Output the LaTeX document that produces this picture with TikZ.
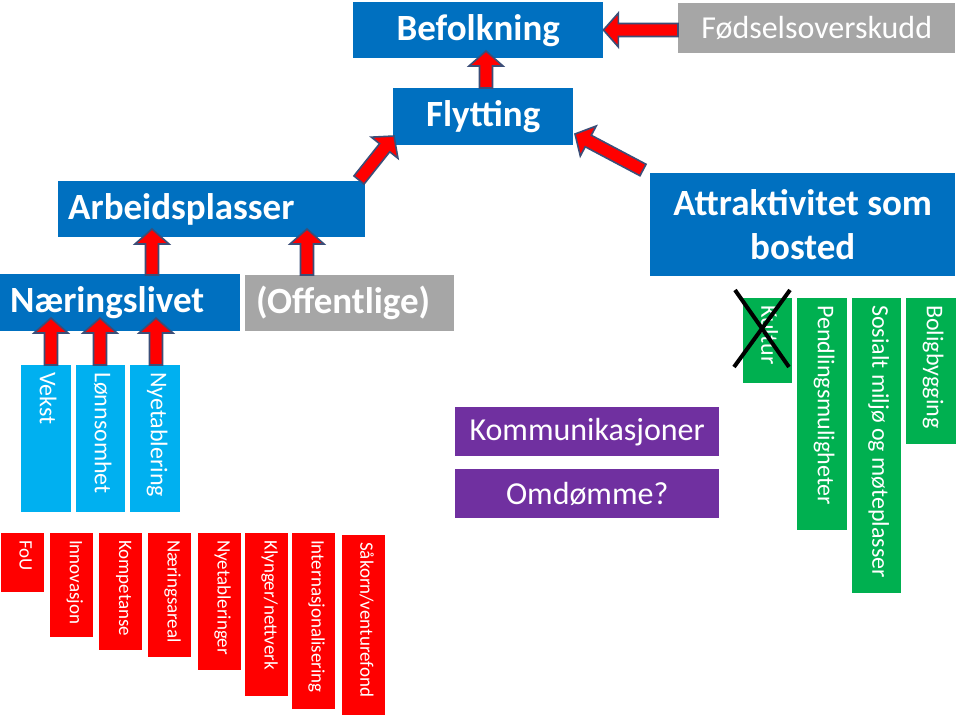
\documentclass[tikz,border=0pt]{standalone}
\usepackage{fontspec}
\setmainfont{Carlito}
\usetikzlibrary{calc}
\definecolor{dblue}{HTML}{0070C0}
\definecolor{lblue}{HTML}{00B0F0}
\definecolor{gbox}{HTML}{A6A6A6}
\definecolor{rbox}{HTML}{FF0000}
\definecolor{pbox}{HTML}{7030A0}
\definecolor{gnbox}{HTML}{00B050}
\definecolor{arrline}{HTML}{3B4E78}
\newcommand\bigfont{\fontsize{37}{44}\selectfont\bfseries}
\newcommand\midfont{\fontsize{32}{38}\selectfont}
\newcommand\vfont{\fontsize{24}{28}\selectfont}
\newcommand\rfont{\fontsize{19}{22}\selectfont}
\newcommand\blockarr[2]{%
  \coordinate (ba-h) at ($(#2)!15pt!(#1)$);
  \draw[barrow] ($(#1)!6.5pt!90:(#2)$) -- ($(ba-h)!6.5pt!90:(#2)$) -- ($(ba-h)!17pt!90:(#2)$) -- (#2)
     -- ($(ba-h)!17pt!-90:(#2)$) -- ($(ba-h)!6.5pt!-90:(#2)$) -- ($(#1)!6.5pt!-90:(#2)$) -- cycle;}
\tikzset{
  box/.style={rectangle, inner sep=0pt, anchor=north west, text=white},
  bigbox/.style={box, fill=dblue, font=\bigfont},
  graybox/.style={box, fill=gbox},
  purplebox/.style={box, fill=pbox, font=\midfont},
  lbbox/.style={box, fill=lblue, minimum height=147pt},
  redbox/.style={box, fill=rbox, minimum width=43pt},
  greenbox/.style={box, fill=gnbox},
  vlab/.style={rotate=-90, anchor=west, inner sep=0pt, text=white},
  barrow/.style={fill=rbox, draw=arrline, line width=1.6pt, line join=miter},
  crossline/.style={draw=black, line width=4pt}
}
\begin{document}
\begin{tikzpicture}[x=1pt, y=-1pt]
\useasboundingbox (0,0) rectangle (959,715);
\fill[white] (0,0) rectangle (959,715);
% top boxes
\node[bigbox, minimum width=250pt, minimum height=56pt] (bef) at (353,2) {Befolkning};
\node[graybox, font=\midfont, minimum width=277pt, minimum height=50pt] (fod) at (678,3) {Fødselsoverskudd};
\node[bigbox, minimum width=180pt, minimum height=57pt] (fly) at (393,88) {Flytting};
\node[bigbox, minimum width=307pt, minimum height=56pt, text width=287pt, inner xsep=10pt, align=left] (arb) at (58,181) {Arbeidsplasser};
\node[bigbox, minimum width=305pt, minimum height=103pt, align=center] (att) at (650,173) {Attraktivitet som\\bosted};
\node[bigbox, minimum width=240pt, minimum height=57pt, text width=220pt, inner xsep=10pt, align=left] (nae) at (0,274) {Næringslivet};
\node[graybox, font=\bigfont, minimum width=209pt, minimum height=56pt, text width=187pt, inner xsep=11pt, align=left] (off) at (245,275) {(Offentlige)};
% purple
\node[purplebox, minimum width=264pt, minimum height=49pt] (kom) at (455,407) {Kommunikasjoner};
\node[purplebox, minimum width=264pt, minimum height=49pt] (omd) at (455,469) {Omdømme?};
% light blue
\node[lbbox, minimum width=50pt] (vek) at (21,365) {};
\node[lbbox, minimum width=49pt] (lon) at (76,365) {};
\node[lbbox, minimum width=50pt] (nye) at (130,365) {};
\node[vlab, font=\vfont] (vek-t) at ($(vek.north)+(2,7)$) {Vekst};
\node[vlab, font=\vfont] (lon-t) at ($(lon.north)+(2,7)$) {Lønnsomhet};
\node[vlab, font=\vfont] (nye-t) at ($(nye.north)+(2,7)$) {Nyetablering};
% red
\node[redbox, minimum height=59pt] (r1) at (1,533) {};
\node[redbox, minimum height=104pt] (r2) at (50,533) {};
\node[redbox, minimum height=117pt] (r3) at (99,533) {};
\node[redbox, minimum height=124pt] (r4) at (148,533) {};
\node[redbox, minimum height=137pt] (r5) at (198,533) {};
\node[redbox, minimum height=163pt] (r6) at (245,533) {};
\node[redbox, minimum height=176pt] (r7) at (292,533) {};
\node[redbox, minimum height=190pt] (r8) at (342,535) {};
\node[vlab, font=\rfont] (r1-t) at ($(r1.north)+(3,7)$) {FoU};
\node[vlab, font=\rfont] (r2-t) at ($(r2.north)+(3,7)$) {Innovasjon};
\node[vlab, font=\rfont] (r3-t) at ($(r3.north)+(3,7)$) {Kompetanse};
\node[vlab, font=\rfont] (r4-t) at ($(r4.north)+(3,7)$) {Næringsareal};
\node[vlab, font=\rfont] (r5-t) at ($(r5.north)+(3,7)$) {Nyetableringer};
\node[vlab, font=\rfont] (r6-t) at ($(r6.north)+(3,7)$) {Klynger/nettverk};
\node[vlab, font=\rfont] (r7-t) at ($(r7.north)+(3,7)$) {Internasjonalisering};
\node[vlab, font=\rfont] (r8-t) at ($(r8.north)+(3,7)$) {Såkorn/venturefond};
% green
\node[greenbox, minimum width=49pt, minimum height=85pt] (g1) at (743,298) {};
\node[greenbox, minimum width=50pt, minimum height=232pt] (g2) at (797,298) {};
\node[greenbox, minimum width=49pt, minimum height=295pt] (g3) at (852,298) {};
\node[greenbox, minimum width=50pt, minimum height=146pt] (g4) at (906,298) {};
\node[vlab, font=\vfont] (g1-t) at ($(g1.north)+(2,7)$) {Kultur};
\node[vlab, font=\vfont] (g2-t) at ($(g2.north)+(2,7)$) {Pendlingsmuligheter};
\node[vlab, font=\vfont] (g3-t) at ($(g3.north)+(2,7)$) {Sosialt miljø og møteplasser};
\node[vlab, font=\vfont] (g4-t) at ($(g4.north)+(2,7)$) {Boligbygging};
% cross over Kultur
\coordinate (x1a) at (735,290); \coordinate (x1b) at (789,367);
\coordinate (x2a) at (790,290); \coordinate (x2b) at (734,367);
\draw[crossline] (x1a) -- (x1b);
\draw[crossline] (x2a) -- (x2b);
% arrow ends
\coordinate (a1s) at (fod.west |- 0,30);  \coordinate (a1e) at (bef.east |- 0,30);
\coordinate (a2s) at (486,88);  \coordinate (a2e) at (486,51);
\coordinate (a3s) at (359,180); \coordinate (a3e) at (394,136);
\coordinate (a4s) at (643,170); \coordinate (a4e) at (575,134);
\coordinate (a5s) at (152,275); \coordinate (a5e) at (152,229);
\coordinate (a6s) at (307,275); \coordinate (a6e) at (307,229);
\coordinate (a7s) at (51,365);  \coordinate (a7e) at (51,318);
\coordinate (a8s) at (100,365); \coordinate (a8e) at (100,318);
\coordinate (a9s) at (156,365); \coordinate (a9e) at (156,318);
\blockarr{a1s}{a1e}
\blockarr{a2s}{a2e}
\blockarr{a3s}{a3e}
\blockarr{a4s}{a4e}
\blockarr{a5s}{a5e}
\blockarr{a6s}{a6e}
\blockarr{a7s}{a7e}
\blockarr{a8s}{a8e}
\blockarr{a9s}{a9e}
\end{tikzpicture}
\end{document}
